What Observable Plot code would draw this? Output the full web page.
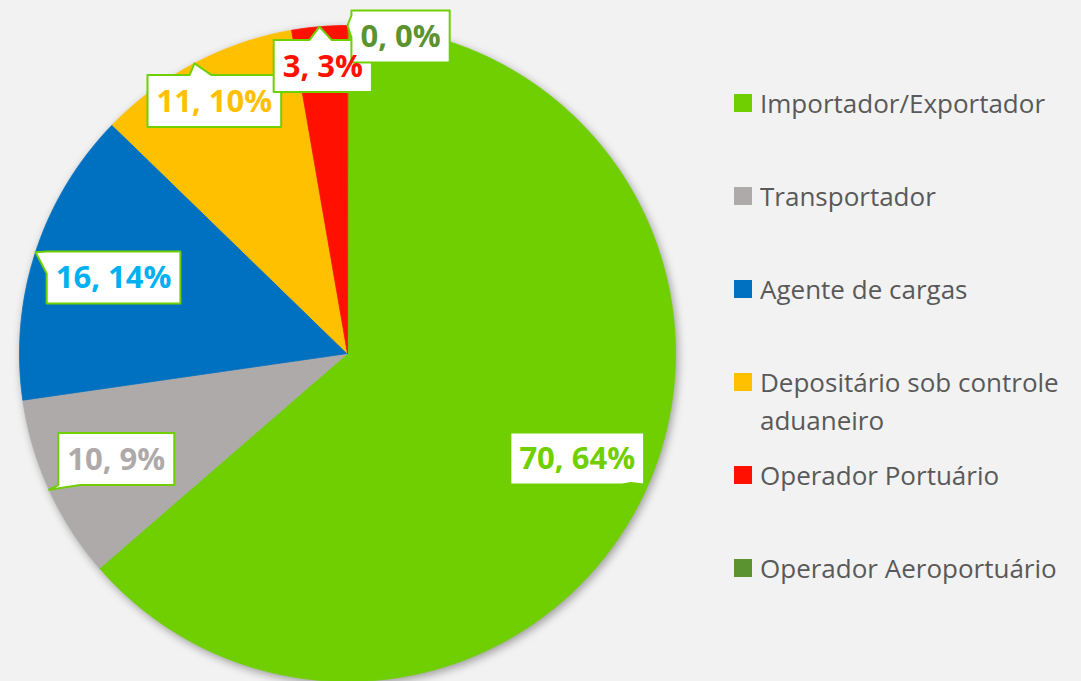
<!DOCTYPE html>
<html><head><meta charset="utf-8">
<script src="https://cdn.jsdelivr.net/npm/d3@7"></script>
<script src="https://cdn.jsdelivr.net/npm/@observablehq/plot@0.6"></script>
<style>
html,body{margin:0;padding:0;background:#f2f2f2;overflow:hidden}
#wrap{position:relative;width:1081px;height:681px}
#wrap svg{position:absolute;left:0;top:0}
#legend{position:absolute;left:734px;top:0;font-family:"Open Sans",sans-serif;font-size:26px;color:#595959}
.item{position:absolute;left:0;display:flex;align-items:flex-start;line-height:38px}
.sw{width:18px;height:18px;margin-top:10px;margin-right:8px;flex:none}
.lab{width:330px}
</style></head><body><div id="wrap"></div>
<script>
const categories = ["Importador/Exportador","Transportador","Agente de cargas","Depositário sob controle aduaneiro","Operador Portuário","Operador Aeroportuário"];
const values = [70, 10, 16, 11, 3, 0];
const percents = [64, 9, 14, 10, 3, 0];
const sliceColors = ["#70cf00","#aeaaaa","#0070c0","#ffc000","#ff1000","#5b9331"];
const labelColors = ["#70cf00","#aeaaaa","#00b0f0","#ffc000","#ff1000","#5b9331"];

// label layout (fractions of radius, angle shifts in degrees)
const labelRadius = [0.77, 0.775, 0.75, 0.87, 0.88, 0.98];
const labelAngleShift = [0, 0, 0, 0, 0, 9.5];
const pointerRadius = [0.95, 1, 1, 1, 1, 1];

const R = 328;
const arcs = d3.pie().sort(null).value(d => d)(values);

// slice polygons
const slicePts = [];
arcs.forEach((a, i) => {
  if (a.endAngle - a.startAngle <= 0) return;
  const n = Math.max(2, Math.ceil((a.endAngle - a.startAngle) / (Math.PI / 360)));
  slicePts.push({cat: categories[i], x: 0, y: 0});
  for (let k = 0; k <= n; k++) {
    const t = a.startAngle + (a.endAngle - a.startAngle) * k / n;
    slicePts.push({cat: categories[i], x: R * Math.sin(t), y: R * Math.cos(t)});
  }
});

// labels with callouts
const ctx = document.createElement("canvas").getContext("2d");
const FS = 31;
ctx.font = `bold ${FS}px "Open Sans"`;
const labels = [];
const calloutPts = [];
arcs.forEach((a, i) => {
  const mid = (a.startAngle + a.endAngle) / 2;
  const la = mid + labelAngleShift[i] * Math.PI / 180;
  const cx = labelRadius[i] * R * Math.sin(la), cy = labelRadius[i] * R * Math.cos(la);
  const ax = pointerRadius[i] * R * Math.sin(mid), ay = pointerRadius[i] * R * Math.cos(mid);
  const text = `${values[i]}, ${percents[i]}%`;
  const w = ctx.measureText(text).width + 18, h = 52;
  labels.push({x: cx, y: cy, text, color: labelColors[i]});
  const x0 = cx - w / 2, x1 = cx + w / 2, yT = cy + h / 2, yB = cy - h / 2;
  const corners = [[x0, yT], [x1, yT], [x1, yB], [x0, yB]];
  const dx = ax - cx, dy = ay - cy;
  const tx = dx === 0 ? Infinity : (w / 2) / Math.abs(dx);
  const ty = dy === 0 ? Infinity : (h / 2) / Math.abs(dy);
  let edge, hit;
  if (tx < ty) { edge = dx < 0 ? 3 : 1; hit = [cx + dx * tx, cy + dy * tx]; }
  else { edge = dy > 0 ? 0 : 2; hit = [cx + dx * ty, cy + dy * ty]; }
  const poly = [];
  for (let e = 0; e < 4; e++) {
    const s = corners[e], f = corners[(e + 1) % 4];
    poly.push(s);
    if (e === edge) {
      const L = Math.hypot(f[0] - s[0], f[1] - s[1]);
      const u = Math.hypot(hit[0] - s[0], hit[1] - s[1]);
      const b = 11;
      let u1 = Math.max(0, u - b), u2 = Math.min(L, u1 + 2 * b); u1 = Math.max(0, u2 - 2 * b);
      const lerp = q => [s[0] + (f[0] - s[0]) * q / L, s[1] + (f[1] - s[1]) * q / L];
      poly.push(lerp(u1), [ax, ay], lerp(u2));
    }
  }
  poly.forEach(p => calloutPts.push({id: i, x: p[0], y: p[1]}));
});

const plot = Plot.plot({
  width: 1081, height: 681,
  marginLeft: 19, marginRight: 406, marginTop: 25, marginBottom: 0,
  x: {domain: [-R, R], axis: null},
  y: {domain: [-R, R], axis: null},
  color: {domain: categories, range: sliceColors},
  style: {background: "transparent", overflow: "visible"},
  marks: [
    Plot.line(slicePts, {x: "x", y: "y", z: "cat", fill: "cat", stroke: "cat", strokeWidth: 0.8, curve: "linear-closed"}),
    Plot.line(calloutPts, {x: "x", y: "y", z: "id", fill: "white", stroke: "#70cf00", strokeWidth: 2, curve: "linear-closed"}),
    ...labels.map(l => Plot.text([l], {x: "x", y: "y", text: "text", fill: l.color, fontSize: FS, fontWeight: "bold", fontFamily: "Open Sans", dy: 1}))
  ]
});
const pieG = plot.querySelector('g[aria-label="line"]');
if (pieG) pieG.style.filter = "drop-shadow(2px 3px 4px rgba(0,0,0,0.35))";

const wrap = document.getElementById("wrap");
wrap.appendChild(plot);

const legend = document.createElement("div");
legend.id = "legend";
categories.forEach((c, i) => {
  const it = document.createElement("div");
  it.className = "item";
  it.style.top = (103 + 93 * i - 19) + "px";
  const sw = document.createElement("div");
  sw.className = "sw"; sw.style.background = sliceColors[i];
  const lab = document.createElement("div");
  lab.className = "lab"; lab.textContent = c;
  it.appendChild(sw); it.appendChild(lab);
  legend.appendChild(it);
});
wrap.appendChild(legend);
</script></body></html>
